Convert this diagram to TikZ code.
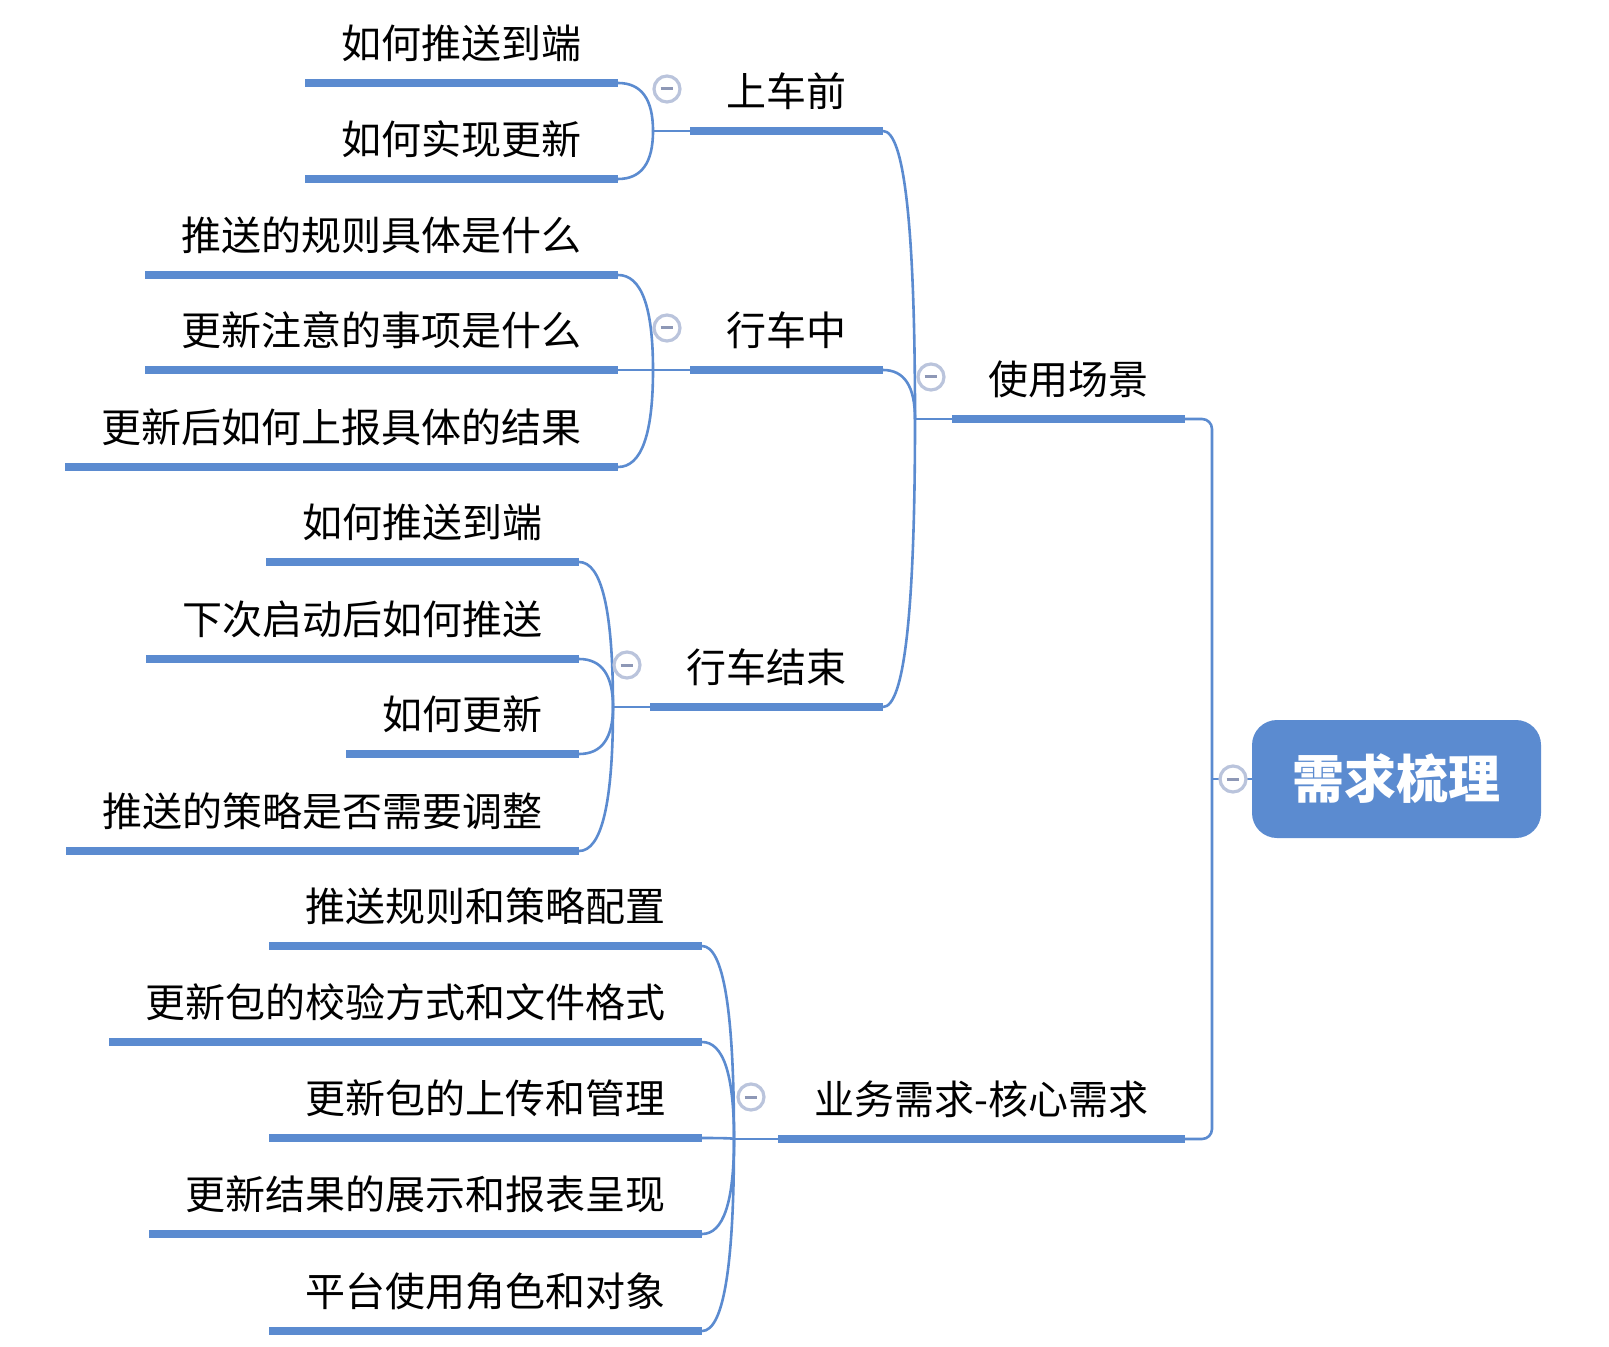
\documentclass[tikz,border=0pt]{standalone}
\usepackage{fontspec}
\setmainfont{Noto Sans CJK SC}
\usetikzlibrary{calc}
\definecolor{mapblue}{HTML}{5B8BD0}
\definecolor{ringgray}{HTML}{BAC4DC}
\definecolor{dashgray}{HTML}{8E98B6}
\begin{document}
\begin{tikzpicture}[
    x=0.5pt, y=-0.5pt,
    topic/.style={font=\fontsize{20pt}{24pt}\selectfont, inner xsep=18pt, inner ysep=0pt,
                  text height=17pt, text depth=12pt, anchor=south east},
    root/.style={fill=mapblue, text=white, rounded corners=12.5pt, minimum width=144.5pt,
                 minimum height=59pt, font=\fontsize{26pt}{30pt}\selectfont\bfseries},
    bar/.style={draw=mapblue, line width=3.8pt},
    link/.style={draw=mapblue, line width=1.3pt},
    curvy/.style={to path={.. controls ($(\tikztostart)!2/3!(\tikztostart|-\tikztotarget)$)
                  and ($(\tikztotarget)!2/3!(\tikztostart|-\tikztotarget)$) .. (\tikztotarget)}},
    fold/.style={circle, draw=ringgray, line width=1.6pt, fill=white, minimum size=13pt,
                 inner sep=0pt, path picture={\draw[dashgray, line width=1.5pt]
                 ([xshift=-3.2pt]path picture bounding box.center) --
                 ([xshift=3.2pt]path picture bounding box.center);}}
]
\useasboundingbox (0,0) rectangle (1609,1347);

% koren
\node[root] (root) at (1396.5,779) {需求梳理};
\coordinate (rfork) at (1212,779);

% prvni uroven
\node[topic] (use) at (1185,419) {使用场景};
\node[topic] (biz) at (1185,1139) {业务需求-核心需求};
\coordinate (fuse) at (915,419);
\coordinate (fbiz) at (734,1139);

% druha uroven
\node[topic] (pre) at (883,131) {上车前};
\node[topic] (mid) at (883,370) {行车中};
\node[topic] (end) at (883,707) {行车结束};
\coordinate (fpre) at (653,131);
\coordinate (fmid) at (653,370);
\coordinate (fend) at (613,707);

% listy
\node[topic] (pre1) at (618,83) {如何推送到端};
\node[topic] (pre2) at (618,179) {如何实现更新};

\node[topic] (mid1) at (618,275) {推送的规则具体是什么};
\node[topic] (mid2) at (618,370) {更新注意的事项是什么};
\node[topic] (mid3) at (618,467) {更新后如何上报具体的结果};

\node[topic] (end1) at (579,562) {如何推送到端};
\node[topic] (end2) at (579,659) {下次启动后如何推送};
\node[topic] (end3) at (579,754) {如何更新};
\node[topic] (end4) at (579,851) {推送的策略是否需要调整};

\node[topic] (biz1) at (702,946) {推送规则和策略配置};
\node[topic] (biz2) at (702,1042) {更新包的校验方式和文件格式};
\node[topic] (biz3) at (702,1138) {更新包的上传和管理};
\node[topic] (biz4) at (702,1234) {更新结果的展示和报表呈现};
\node[topic] (biz5) at (702,1331) {平台使用角色和对象};

% podtrzeni
\foreach \n in {use,biz,pre,mid,end,pre1,pre2,mid1,mid2,mid3,end1,end2,end3,end4,biz1,biz2,biz3,biz4,biz5}
    \draw[bar] (\n.south west) -- (\n.south east);

% spojnice
\draw[link] (rfork) -- (root.west);
\draw[link, rounded corners=5pt] (use.south east) -| (rfork) |- (biz.south east);

\draw[link] (fuse) -- (use.south west);
\foreach \n in {pre,mid,end}
    \draw[link] (fuse) to[curvy] (\n.south east);

\draw[link] (fpre) -- (pre.south west);
\foreach \n in {pre1,pre2}
    \draw[link] (fpre) to[curvy] (\n.south east);

\draw[link] (fmid) -- (mid.south west);
\foreach \n in {mid1,mid2,mid3}
    \draw[link] (fmid) to[curvy] (\n.south east);

\draw[link] (fend) -- (end.south west);
\foreach \n in {end1,end2,end3,end4}
    \draw[link] (fend) to[curvy] (\n.south east);

\draw[link] (fbiz) -- (biz.south west);
\foreach \n in {biz1,biz2,biz3,biz4,biz5}
    \draw[link] (fbiz) to[curvy] (\n.south east);

% sbalovaci kolecka
\node[fold] (froot) at (1233,779) {};
\node[fold] (fuse-c) at ($(fuse)+(16,-42)$) {};
\node[fold] (fbiz-c) at ($(fbiz)+(17,-42)$) {};
\node[fold] (fpre-c) at ($(fpre)+(14,-42)$) {};
\node[fold] (fmid-c) at ($(fmid)+(14,-42)$) {};
\node[fold] (fend-c) at ($(fend)+(14,-42)$) {};

\end{tikzpicture}
\end{document}
